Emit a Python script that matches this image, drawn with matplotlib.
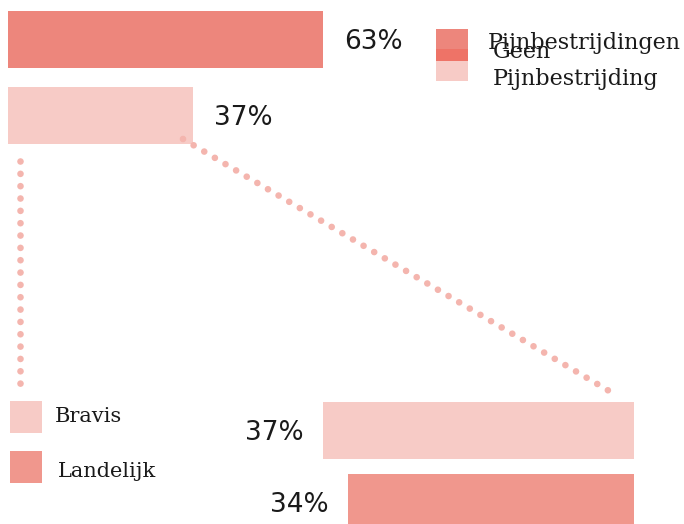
import matplotlib
matplotlib.use('Agg')
import matplotlib.pyplot as plt
from matplotlib.patches import Rectangle
import numpy as np

# ---- data ----
top_categories = ['Pijnbestrijdingen', 'Geen Pijnbestrijding']
top_values = [63, 37]
top_labels = ['63%', '37%']
bottom_categories = ['Bravis', 'Landelijk']
bottom_values = [37, 34]
bottom_labels = ['37%', '34%']

# ---- style ----
salmon = '#ED867C'
pink = '#F7CBC6'
landelijk = '#F0978D'
overlap = '#EE7367'
dot_col = '#F4B5AE'
txt_col = '#1a1a1a'
top_colors = [salmon, pink]
bottom_colors = [pink, landelijk]
num_font = ['DejaVu Sans']
leg_font = ['DejaVu Serif']

W, H, DPI = 684, 524, 100
fig = plt.figure(figsize=(W / DPI, H / DPI), dpi=DPI)


def px_axes(x0, y0, x1, y1):
    # pixel box measured from the top-left corner
    return fig.add_axes([x0 / W, 1 - y1 / H, (x1 - x0) / W, (y1 - y0) / H])


# ---- top bars ----
s_top = 5.0
ax_t = px_axes(8, 1.5, 8 + 100 * s_top, 153.5)
ax_t.barh(range(len(top_values)), top_values, height=0.75, color=top_colors)
ax_t.set_xlim(0, 100)
ax_t.set_ylim(len(top_values) - 0.5, -0.5)
ax_t.axis('off')
for i, (v, lab) in enumerate(zip(top_values, top_labels)):
    ax_t.annotate(lab, (v, i), xytext=(15, -7), textcoords='offset points',
                  ha='left', va='baseline', fontsize=19, color=txt_col,
                  family=num_font)

# ---- bottom bars (right aligned) ----
s_bot = 8.4
ax_b = px_axes(634 - 100 * s_bot, 394.5, 634, 538.5)
ax_b.barh(range(len(bottom_values)), bottom_values, height=0.79,
          color=bottom_colors)
ax_b.set_xlim(100, 0)
ax_b.set_ylim(len(bottom_values) - 0.5, -0.5)
ax_b.axis('off')
for i, (v, lab) in enumerate(zip(bottom_values, bottom_labels)):
    ax_b.annotate(lab, (v, i), xytext=(-14, -7), textcoords='offset points',
                  ha='right', va='baseline', fontsize=19, color=txt_col,
                  family=num_font)

# ---- overlay in pixel coordinates (origin bottom-left) ----
ax_o = fig.add_axes([0, 0, 1, 1])
ax_o.set_xlim(0, W)
ax_o.set_ylim(0, H)
ax_o.axis('off')
ax_o.patch.set_visible(False)

dot_kw = dict(color=dot_col, lw=4.8, linestyle=(0, (0.001, 1.85)),
              dash_capstyle='round', solid_capstyle='round')

# diagonal connector: from end of "Geen" bar to the Bravis bar
p0 = ax_t.transData.transform((top_values[1], 1.375)) + np.array([-10, 5])
p1 = ax_b.transData.transform((0, -0.395)) + np.array([-18, 7])
ax_o.plot([p0[0], p1[0]], [p0[1], p1[1]], **dot_kw)

# vertical connector: from start of "Geen" bar down to the legend
q0 = ax_t.transData.transform((0, 1.375)) + np.array([12, -17])
q1 = np.array([q0[0], H - 394])
ax_o.plot([q0[0], q1[0]], [q0[1], q1[1]], **dot_kw)

# bottom legend
for (y_top, col, lab, tx, base) in [(401, pink, bottom_categories[0], 55, 422),
                                    (451, landelijk, bottom_categories[1], 58, 477)]:
    ax_o.add_patch(Rectangle((10, H - y_top - 32), 32, 32, color=col, lw=0))
    ax_o.text(tx, H - base, lab, ha='left', va='baseline', fontsize=15,
              color=txt_col, family=leg_font)

# top legend (overlapping entries as in the original)
ax_o.add_patch(Rectangle((436, H - 49), 32, 20, color=salmon, lw=0))
ax_o.add_patch(Rectangle((436, H - 61), 32, 12, color=overlap, lw=0))
ax_o.add_patch(Rectangle((436, H - 81), 32, 20, color=pink, lw=0))
ax_o.text(488, H - 49, top_categories[0], ha='left', va='baseline',
          fontsize=16, color=txt_col, family=leg_font)
geen, rest = top_categories[1].split(' ', 1)
ax_o.text(493, H - 58, geen, ha='left', va='baseline',
          fontsize=16, color=txt_col, family=leg_font)
ax_o.text(493, H - 85, rest, ha='left', va='baseline',
          fontsize=16, color=txt_col, family=leg_font)

fig.savefig('out.png', dpi=DPI)
